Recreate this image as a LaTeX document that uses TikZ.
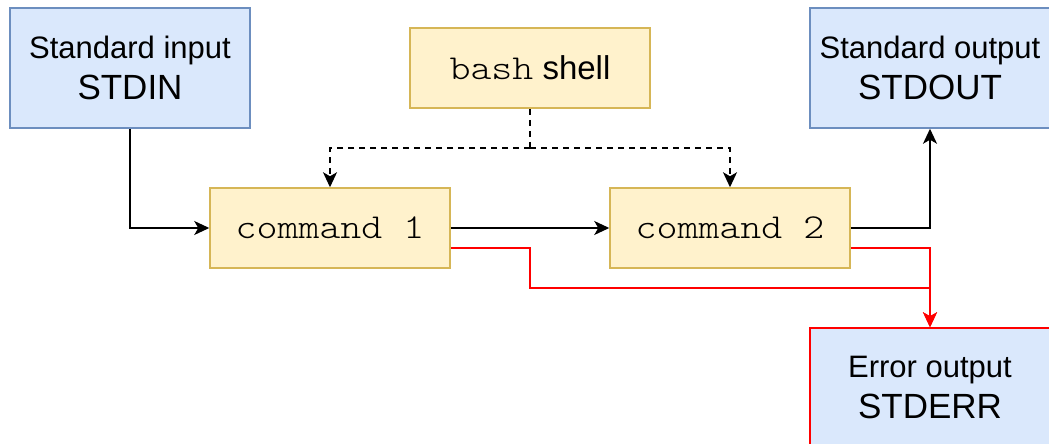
\documentclass[tikz,border=0pt]{standalone}
\usepackage{fontspec}
\setmainfont{Liberation Sans}
\newfontfamily\cmdfont[FakeStretch=1.14]{Latin Modern Mono Light}
\usetikzlibrary{arrows.meta}

\definecolor{streamfill}{HTML}{DAE8FC}
\definecolor{streamline}{HTML}{6C8EBF}
\definecolor{procfill}{HTML}{FFF2CC}
\definecolor{procline}{HTML}{D6B656}
\definecolor{errred}{HTML}{FF0000}

\tikzset{
	stream/.style={draw=streamline, fill=streamfill, line width=1.5pt,
		minimum width=240pt, minimum height=120pt, align=center,
		font=\fontsize{31}{41}\selectfont},
	proc/.style={draw=procline, fill=procfill, line width=1.5pt,
		minimum width=240pt, minimum height=80pt, align=center,
		font=\fontsize{33}{40}\selectfont},
	flow/.style={line width=1.5pt, -{Stealth[length=15pt, width=14pt, inset=4pt]}},
	ctrl/.style={flow, dash pattern=on 6pt off 5pt},
	errflow/.style={flow, draw=errred},
}
\newcommand{\mono}[1]{{\fontsize{35}{40}\selectfont\cmdfont #1}}
\newcommand{\streamname}[1]{{\fontsize{35}{41}\selectfont #1}}

\begin{document}
\begin{tikzpicture}[x=1pt, y=-1pt]
	\useasboundingbox (0,0) rectangle (1049,444);
	\clip (0,0) rectangle (1049,444);

	% streams
	\node[stream] (stdin) at (130,68) {Standard input\\\streamname{STDIN}};
	\node[stream] (stdout) at (930,68) {Standard output\\\streamname{STDOUT}};
	\node[stream, draw=errred] (stderr) at (930,388) {Error output\\\streamname{STDERR}};

	% shell and commands
	\node[proc] (shell) at (530,68) {\mono{bash} shell};
	\node[proc] (cmd1) at (330,228) {\mono{command 1}};
	\node[proc] (cmd2) at (730,228) {\mono{command 2}};

	\coordinate (fork) at (530,148);
	\coordinate (errjoin) at (530,288);

	% shell starts both commands
	\draw[ctrl, -] (shell.south) -- (fork);
	\draw[ctrl] (fork) -| (cmd1.north);
	\draw[ctrl] (fork) -| (cmd2.north);

	% pipeline
	\draw[flow] (stdin.south) |- (cmd1.west);
	\draw[flow] (cmd1.east) -- (cmd2.west);
	\draw[flow] (cmd2.east) -| (stdout.south);

	% errors
	\draw[errflow] ([yshift=-20pt]cmd1.east) -| (errjoin) -| (stderr.north);
	\draw[errflow] ([yshift=-20pt]cmd2.east) -| (stderr.north);

\end{tikzpicture}
\end{document}
